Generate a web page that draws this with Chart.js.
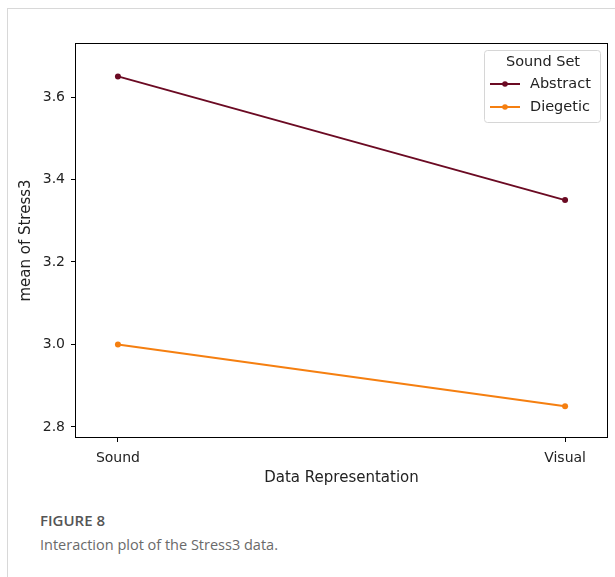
<!DOCTYPE html>
<html>
<head>
<meta charset="utf-8">
<script src="https://cdn.jsdelivr.net/npm/chart.js@4.4.0/dist/chart.umd.min.js"></script>
<style>
  body { margin: 0; background: #fff; width: 615px; height: 577px; overflow: hidden; position: relative; }
  .frame { position: absolute; left: 7px; top: 8px; width: 700px; height: 700px; border: 1px solid #d8d8d8; }
  .wrap { position: absolute; left: 0; top: 0; width: 615px; height: 500px; }
  .cap { position: absolute; left: 40px; font-family: "Open Sans", "Noto Sans", sans-serif; }
  .fig { top: 510px; font-size: 15px; font-weight: 600; color: #555; }
  .txt { top: 535px; font-size: 14.5px; color: #6a6a6a; }
</style>
</head>
<body>
<div class="frame"></div>
<div class="wrap"><canvas id="interactionChart"></canvas></div>
<div class="cap fig">FIGURE 8</div>
<div class="cap txt">Interaction plot of the Stress3 data.</div>
<script>
var categories = ['Sound', 'Visual'];
var seriesNames = ['Abstract', 'Diegetic'];
var abstractMeans = [3.65, 3.35];
var diegeticMeans = [3.0, 2.85];
var yTicks = [2.8, 3.0, 3.2, 3.4, 3.6];

var colors = ['#6b0a23', '#f57f10'];
var font = "'DejaVu Sans', sans-serif";

function toPoints(vals) {
  return vals.map(function(v, i) { return { x: i, y: v }; });
}

// frame around plot + legend box like matplotlib
var framePlugin = {
  id: 'framePlugin',
  afterDraw: function(chart) {
    var ctx = chart.ctx;
    var a = chart.chartArea;
    ctx.save();
    ctx.strokeStyle = '#000';
    ctx.lineWidth = 1;
    ctx.strokeRect(a.left + 0.5, a.top + 0.5, a.right - a.left - 1, a.bottom - a.top - 1);

    // legend
    var bx = 484, by = 50, bw = 116, bh = 72;
    ctx.fillStyle = 'rgba(255,255,255,0.8)';
    ctx.strokeStyle = '#d6d6d6';
    ctx.beginPath();
    ctx.roundRect(bx + 0.5, by + 0.5, bw, bh, 3);
    ctx.fill();
    ctx.stroke();
    ctx.fillStyle = '#222';
    ctx.font = '14.5px ' + font;
    ctx.textAlign = 'center';
    ctx.textBaseline = 'middle';
    ctx.fillText('Sound Set', bx + bw / 2 + 1, by + 12);
    ctx.textAlign = 'left';
    chart.data.datasets.forEach(function(ds, i) {
      var yy = by + 34 + i * 23;
      ctx.strokeStyle = ds.borderColor;
      ctx.lineWidth = 2;
      ctx.beginPath();
      ctx.moveTo(bx + 6, yy);
      ctx.lineTo(bx + 36, yy);
      ctx.stroke();
      ctx.fillStyle = ds.borderColor;
      ctx.beginPath();
      ctx.arc(bx + 21, yy, 2.8, 0, Math.PI * 2);
      ctx.fill();
      ctx.fillStyle = '#222';
      ctx.fillText(ds.label, bx + 46, yy);
    });
    ctx.restore();
  }
};

var ctx = document.getElementById('interactionChart').getContext('2d');
new Chart(ctx, {
  type: 'line',
  data: {
    datasets: [
      { label: seriesNames[0], data: toPoints(abstractMeans), borderColor: colors[0], backgroundColor: colors[0] },
      { label: seriesNames[1], data: toPoints(diegeticMeans), borderColor: colors[1], backgroundColor: colors[1] }
    ]
  },
  options: {
    responsive: true,
    maintainAspectRatio: false,
    animation: false,
    layout: { padding: { top: 43, right: 7, left: 0, bottom: 0 } },
    elements: {
      line: { borderWidth: 2, tension: 0 },
      point: { radius: 3, borderWidth: 0, hoverRadius: 3 }
    },
    plugins: { legend: { display: false }, tooltip: { enabled: false } },
    scales: {
      x: {
        type: 'linear',
        min: -0.096,
        max: 1.096,
        afterFit: function(s) { s.height = 62; },
        afterBuildTicks: function(s) { s.ticks = categories.map(function(c, i) { return { value: i }; }); },
        ticks: {
          color: '#222',
          font: { family: font, size: 14 },
          padding: 8,
          maxRotation: 0,
          callback: function(v) { return categories[v]; }
        },
        grid: { drawOnChartArea: false, drawTicks: true, tickLength: 4, color: '#000' },
        border: { display: false },
        title: { display: true, text: 'Data Representation', color: '#222', font: { family: font, size: 15 }, padding: { top: 0, bottom: 13 } }
      },
      y: {
        min: 2.773,
        max: 3.731,
        afterFit: function(s) { s.width = 75; },
        afterBuildTicks: function(s) { s.ticks = yTicks.map(function(v) { return { value: v }; }); },
        ticks: {
          color: '#222',
          font: { family: font, size: 14 },
          padding: 6,
          callback: function(v) { return v.toFixed(1); }
        },
        grid: { drawOnChartArea: false, drawTicks: true, tickLength: 4, color: '#000' },
        border: { display: false },
        title: { display: true, text: 'mean of Stress3', color: '#222', font: { family: font, size: 15 }, padding: { top: 17, bottom: 0 } }
      }
    }
  },
  plugins: [framePlugin]
});
</script>
</body>
</html>
